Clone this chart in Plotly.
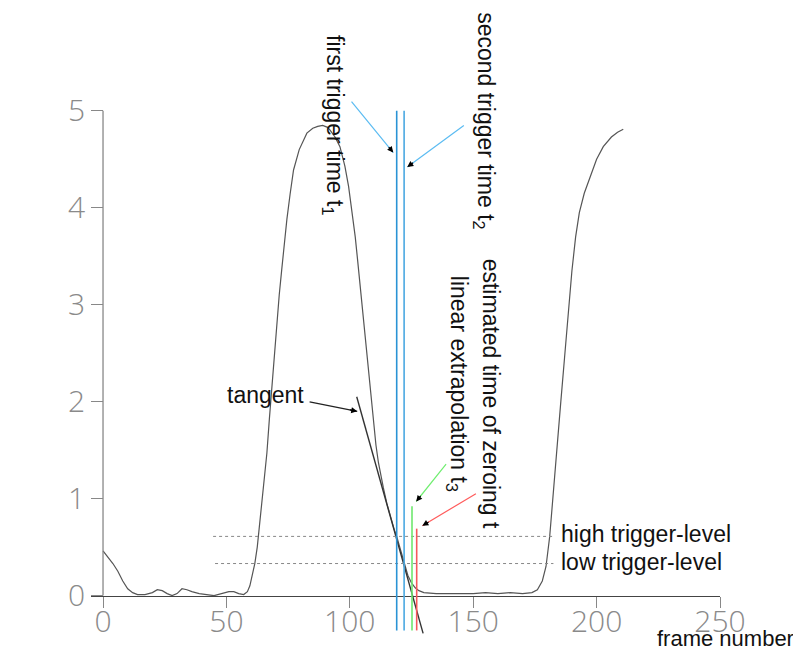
import plotly.graph_objects as go
import math

# ---------------- data ----------------
frame = [0, 2, 4, 6, 8, 10, 12, 14, 17, 20, 22, 24, 26, 28, 30, 32, 34, 36, 39, 42, 45, 48, 51, 53, 55, 57,
         58.5, 59.5, 60.5, 61.5, 62.5, 63.6, 64.5, 65.5, 66.4, 67.4, 68.4, 69.4, 70.4, 71.4, 72.4, 73.4,
         74.5, 75.8, 77.2, 79.5, 82.6, 85, 87, 89, 91, 92, 94, 96, 98, 99.5, 101, 102.2, 103.2, 104.2,
         105.2, 106.2, 107.1, 108, 108.8, 109.6, 110.6, 111.6, 112.6, 113.6, 115, 116.5, 118, 119, 120.5,
         122, 123.5, 125, 126.5, 128, 130, 135, 140, 145, 150, 155, 160, 165, 170, 173.8, 176, 178,
         179.5, 181, 182.5, 184, 185.5, 187, 188.5, 190, 191.5, 193, 195, 197.4, 200, 202.7, 206, 208.5, 210.8]
speed = [0.46, 0.40, 0.33, 0.25, 0.15, 0.07, 0.03, 0.01, 0.01, 0.03, 0.06, 0.05, 0.02, 0.00, 0.02, 0.07,
         0.06, 0.04, 0.02, 0.01, 0.00, 0.02, 0.04, 0.04, 0.02, 0.01,
         0.04, 0.10, 0.20, 0.33, 0.50, 0.78, 1.00, 1.22, 1.47, 1.82, 2.16, 2.50, 2.85, 3.10, 3.36, 3.62,
         3.88, 4.14, 4.39, 4.60, 4.77, 4.82, 4.84, 4.85, 4.83, 4.80, 4.73, 4.63, 4.43, 4.22, 3.95, 3.70, 3.45, 3.19,
         2.93, 2.67, 2.42, 2.16, 1.95, 1.75, 1.55, 1.37, 1.23, 1.11, 0.95, 0.81, 0.68, 0.61, 0.47,
         0.33, 0.21, 0.13, 0.08, 0.05, 0.03, 0.02, 0.02, 0.02, 0.02, 0.03, 0.02, 0.03, 0.02, 0.03, 0.06, 0.15,
         0.30, 0.61, 1.10, 1.55, 2.00, 2.45, 2.95, 3.35, 3.70, 3.95, 4.15, 4.32, 4.50, 4.63, 4.73, 4.78, 4.81]

tangent_x = [102.8, 129.7]
tangent_y = [2.05, -0.39]

trigger_times = [119.0, 122.0]          # t1, t2
t3_extrapolated = 125.2                  # linear extrapolation t3
t_zero_estimated = 127.1                 # estimated time of zeroing
trigger_levels = [0.61, 0.33]            # high, low
level_x_start = [44.6, 45.4]
level_x_end = [183.0, 182.5]
level_names = ["high trigger-level", "low trigger-level"]

x_ticks = [0, 50, 100, 150, 200, 250]
y_ticks = [0, 1, 2, 3, 4, 5]

# ---------------- layout geometry ----------------
# page body has an 8px margin on every side, so the figure is 16px smaller than the window
W, H = 785, 641
XR = [-4.87, 250]
YR = [-0.5, 5.05]
ML, MR, MT, MB = 83, 73, 98, 5
sx = (W - ML - MR) / (XR[1] - XR[0])
sy = (H - MT - MB) / (YR[1] - YR[0])

TXT = dict(family="Liberation Sans, Arial, sans-serif", size=23, color="#111111")
TICKF = dict(family="Open Sans, sans-serif", size=30, color="#8a8a8a", weight=300)

fig = go.Figure()
fig.add_trace(go.Scatter(x=frame, y=speed, mode="lines",
                         line=dict(color="#555555", width=1.2), hoverinfo="skip"))
fig.add_trace(go.Scatter(x=tangent_x, y=tangent_y, mode="lines",
                         line=dict(color="#333333", width=1.4), hoverinfo="skip"))

shapes = []
# y axis line (only between 0 and 5)
shapes.append(dict(type="line", xref="x", yref="y", x0=0, x1=0, y0=0, y1=5,
                   line=dict(color="#888888", width=1.3)))
# trigger levels
for lv, xs, xe in zip(trigger_levels, level_x_start, level_x_end):
    shapes.append(dict(type="line", xref="x", yref="y", x0=xs, x1=xe, y0=lv, y1=lv,
                       line=dict(color="#888888", width=1, dash="dot")))
# vertical markers
bottom = -0.36
for t, c in zip(trigger_times, ["#2a93d5", "#4aa8e2"]):
    shapes.append(dict(type="line", xref="x", yref="y", x0=t, x1=t, y0=bottom, y1=5.0,
                       line=dict(color=c, width=1.6)))
shapes.append(dict(type="line", xref="x", yref="y", x0=t3_extrapolated, x1=t3_extrapolated,
                   y0=bottom, y1=0.92, line=dict(color="#6ee86e", width=1.6)))
shapes.append(dict(type="line", xref="x", yref="y", x0=t_zero_estimated, x1=t_zero_estimated,
                   y0=bottom, y1=0.69, line=dict(color="#f55a5a", width=1.6)))

ann = []


def arrow(tail, head, color):
    # coloured shaft
    ann.append(dict(x=head[0], y=head[1], ax=tail[0], ay=tail[1], xref="x", yref="y",
                    axref="x", ayref="y", text="", showarrow=True, arrowhead=0,
                    arrowwidth=1.2, arrowcolor=color))
    # black arrow head
    dx = (tail[0] - head[0]) * sx
    dy = -(tail[1] - head[1]) * sy
    n = math.hypot(dx, dy)
    ann.append(dict(x=head[0], y=head[1], ax=dx / n * 9, ay=dy / n * 9, xref="x", yref="y",
                    text="", showarrow=True, arrowhead=2, arrowsize=1, arrowwidth=1.2,
                    arrowcolor="#000000"))


arrow((100.2, 5.11), (117.6, 4.57), "#5cbcf2")
arrow((146.8, 4.86), (123.3, 4.42), "#5cbcf2")
arrow((139.5, 1.37), (126.9, 0.97), "#70ee70")
arrow((151.7, 1.06), (129.4, 0.72), "#ff5c5c")
arrow((83.1, 2.0), (103.0, 1.90), "#222222")

ann.append(dict(x=-37.7, y=5.37, xref="x", yref="y", text="speed [m/s]", showarrow=False,
                xanchor="left", yanchor="middle", font=TXT))
ann.append(dict(x=223.5, y=-0.44, xref="x", yref="y", text="frame number", showarrow=False,
                xanchor="left", yanchor="middle", font=dict(TXT, size=22)))
ann.append(dict(x=49.5, y=2.07, xref="x", yref="y", text="tangent", showarrow=False,
                xanchor="left", yanchor="middle", font=TXT))
for lv, name in zip(trigger_levels, level_names):
    ann.append(dict(x=184.9, y=lv + 0.02, xref="x", yref="y", text=name, showarrow=False,
                    xanchor="left", yanchor="middle", font=TXT))

rot = [("first trigger time t<sub>1</sub>", 93.3, 4.85),
       ("second trigger time t<sub>2</sub>", 154.5, 4.9),
       ("estimated time of zeroing t", 157.3, 2.08),
       ("linear extrapolation t<sub>3</sub>", 143.6, 2.18)]
for txt, x, y in rot:
    ann.append(dict(x=x, y=y, xref="x", yref="y", text=txt, showarrow=False, textangle=90,
                    xanchor="center", yanchor="middle", font=TXT))

fig.update_layout(
    width=W, height=H, showlegend=False,
    paper_bgcolor="white", plot_bgcolor="white",
    margin=dict(l=ML, r=MR, t=MT, b=MB, autoexpand=False),
    shapes=shapes, annotations=ann, hovermode=False,
    xaxis=dict(range=XR, tickvals=x_ticks, ticks="outside", ticklen=11, tickwidth=1.3,
               tickcolor="#888888", showline=True, linecolor="#444444", linewidth=1.3,
               showgrid=False, zeroline=False, anchor="free", ticklabelstandoff=-12,
               position=(0 - YR[0]) / (YR[1] - YR[0]), tickfont=TICKF),
    yaxis=dict(range=YR, tickvals=y_ticks, ticks="outside", ticklen=12, tickwidth=1.3,
               tickcolor="#888888", showline=False, showgrid=False, zeroline=False,
               anchor="free", position=(0 - XR[0]) / (XR[1] - XR[0]), tickfont=TICKF),
)

fig.write_html("out.html", config={"displayModeBar": False})
